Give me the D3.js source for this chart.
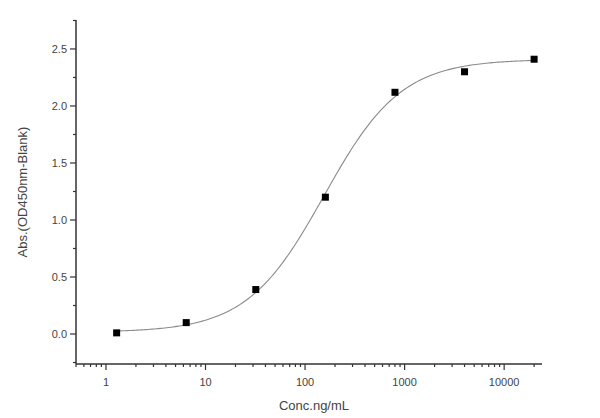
<!DOCTYPE html>
<html><head><meta charset="utf-8">
<script src="https://cdn.jsdelivr.net/npm/d3@7"></script>
<style>body{margin:0;background:#fff}svg{display:block}text{font-family:"Liberation Sans",Arial,sans-serif;fill:#444}</style>
</head><body><svg id="c" width="600" height="418"></svg>
<script>
const concentrations = [1.28, 6.4, 32, 160, 800, 4000, 20000];
const absorbance = [0.01, 0.10, 0.39, 1.20, 2.12, 2.30, 2.41];
const yTicks = [0.0, 0.5, 1.0, 1.5, 2.0, 2.5];
const xTicks = [1, 10, 100, 1000, 10000];
// 4-parameter logistic fit parameters (bottom, top, EC50, slope)
const fitA1 = 0.015, fitA2 = 2.41, fitX0 = 155, fitP = 1.12;

const svg = d3.select("#c");
const x = d3.scaleLog().domain([0.5, 24000]).range([76, 542]);
const y = d3.scaleLinear().domain([-0.263, 2.754]).range([364, 20]);
const axisColor = "#333";

// curve
const fit = v => fitA2 + (fitA1 - fitA2) / (1 + Math.pow(v / fitX0, fitP));
const lx0 = Math.log10(concentrations[0]), lx1 = Math.log10(concentrations[concentrations.length-1]);
const curvePts = d3.range(0, 201).map(i => Math.pow(10, lx0 + (lx1 - lx0) * i / 200));
svg.append("path").datum(curvePts)
  .attr("d", d3.line().x(d => x(d)).y(d => y(fit(d))))
  .attr("fill", "none").attr("stroke", "#8a8a8a").attr("stroke-width", 1.1);

// y axis
const gy = svg.append("g").attr("transform", "translate(76,0)");
gy.append("line").attr("y1", 20).attr("y2", 364).attr("stroke", axisColor).attr("stroke-width", 1.5);
const yMinor = d3.range(-0.25, 2.76, 0.25).filter(v => Math.abs(v*2 - Math.round(v*2)) > 0.01);
gy.selectAll(".ym").data(yMinor).join("line").attr("x1", -3).attr("x2", 0)
  .attr("y1", d => y(d)).attr("y2", d => y(d)).attr("stroke", axisColor).attr("stroke-width", 1.2);
gy.selectAll(".yM").data(yTicks).join("line").attr("x1", -6).attr("x2", 0)
  .attr("y1", d => y(d)).attr("y2", d => y(d)).attr("stroke", axisColor).attr("stroke-width", 1.2);
gy.selectAll(".yl").data(yTicks).join("text").attr("x", -9).attr("y", d => y(d)).attr("dy", "0.35em")
  .attr("text-anchor", "end").attr("font-size", 11).text(d => d.toFixed(1));

// x axis
const gx = svg.append("g").attr("transform", "translate(0,364)");
gx.append("line").attr("x1", 76).attr("x2", 542).attr("stroke", axisColor).attr("stroke-width", 1.5);
const xMinor = [];
for (let e = -1; e <= 4; e++) for (let m = 2; m <= 9; m++) { const v = m * Math.pow(10, e); if (v >= 0.5 && v <= 24000) xMinor.push(v); }
gx.selectAll(".xm").data(xMinor).join("line").attr("x1", d => x(d)).attr("x2", d => x(d))
  .attr("y1", 0).attr("y2", 3).attr("stroke", axisColor).attr("stroke-width", 1.2);
gx.selectAll(".xM").data(xTicks).join("line").attr("x1", d => x(d)).attr("x2", d => x(d))
  .attr("y1", 0).attr("y2", 6).attr("stroke", axisColor).attr("stroke-width", 1.2);
gx.selectAll(".xl").data(xTicks).join("text").attr("x", d => x(d)).attr("y", 22)
  .attr("text-anchor", "middle").attr("font-size", 11).text(d => d);

// points
svg.selectAll(".pt").data(concentrations).join("rect")
  .attr("x", d => x(d) - 3.5).attr("y", (d, i) => y(absorbance[i]) - 3.5)
  .attr("width", 7).attr("height", 7).attr("fill", "#000");

// titles
svg.append("text").attr("x", 314).attr("y", 410).attr("text-anchor", "middle").attr("font-size", 13).text("Conc.ng/mL");
svg.append("text").attr("transform", "translate(27,192) rotate(-90)").attr("text-anchor", "middle")
  .attr("font-size", 13).text("Abs.(OD450nm-Blank)");
</script></body></html>
